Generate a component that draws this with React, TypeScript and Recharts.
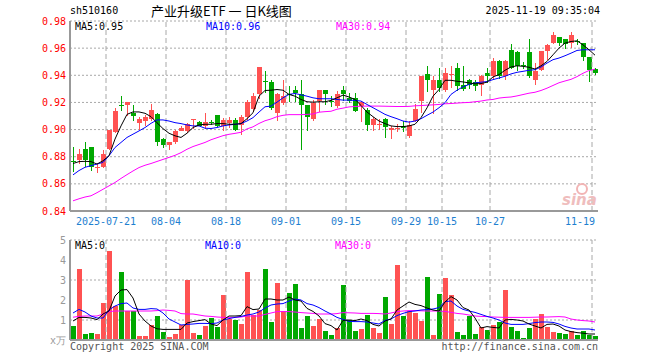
import React from "react";
import { ComposedChart, Bar, Line, XAxis, YAxis, CartesianGrid, ReferenceLine } from "recharts";

// trading days shown on the K-line (88 sessions)
const dates = [
  "2025-07-11", "2025-07-14", "2025-07-15", "2025-07-16", "2025-07-17", "2025-07-18",
  "2025-07-21", "2025-07-22", "2025-07-23", "2025-07-24", "2025-07-25",
  "2025-07-28", "2025-07-29", "2025-07-30", "2025-07-31", "2025-08-01",
  "2025-08-04", "2025-08-05", "2025-08-06", "2025-08-07", "2025-08-08",
  "2025-08-11", "2025-08-12", "2025-08-13", "2025-08-14", "2025-08-15",
  "2025-08-18", "2025-08-19", "2025-08-20", "2025-08-21", "2025-08-22",
  "2025-08-25", "2025-08-26", "2025-08-27", "2025-08-28", "2025-08-29",
  "2025-09-01", "2025-09-02", "2025-09-03", "2025-09-04", "2025-09-05",
  "2025-09-08", "2025-09-09", "2025-09-10", "2025-09-11", "2025-09-12",
  "2025-09-15", "2025-09-16", "2025-09-17", "2025-09-18", "2025-09-19",
  "2025-09-22", "2025-09-23", "2025-09-24", "2025-09-25", "2025-09-26",
  "2025-09-29", "2025-09-30", "2025-10-09", "2025-10-10",
  "2025-10-13", "2025-10-14", "2025-10-15", "2025-10-16", "2025-10-17",
  "2025-10-20", "2025-10-21", "2025-10-22", "2025-10-23", "2025-10-24",
  "2025-10-27", "2025-10-28", "2025-10-29", "2025-10-30", "2025-10-31",
  "2025-11-03", "2025-11-04", "2025-11-05", "2025-11-06", "2025-11-07",
  "2025-11-10", "2025-11-11", "2025-11-12", "2025-11-13", "2025-11-14",
  "2025-11-17", "2025-11-18", "2025-11-19",
];

const open = [
  0.8765, 0.8776, 0.8856, 0.8868, 0.872, 0.8722, 0.8856, 0.8985, 0.9182, 0.9178,
  0.9124, 0.9046, 0.9063, 0.908, 0.9112, 0.8929, 0.8885, 0.8905, 0.899, 0.899,
  0.9068, 0.9058, 0.9027, 0.9058, 0.9107, 0.9027, 0.9046, 0.9068, 0.9032, 0.9095,
  0.915, 0.926, 0.9358, 0.935, 0.912, 0.9193, 0.9262, 0.9288, 0.9259, 0.9178,
  0.9076, 0.921, 0.9288, 0.9212, 0.9173, 0.9288, 0.9234, 0.9234, 0.9173, 0.9141,
  0.9032, 0.904, 0.908, 0.8995, 0.9012, 0.9027, 0.8955, 0.9063, 0.921, 0.9412,
  0.929, 0.9363, 0.929, 0.941, 0.9454, 0.9332, 0.9363, 0.935, 0.9332, 0.9417,
  0.9393, 0.9507, 0.9393, 0.9588, 0.957, 0.9478, 0.957, 0.9368, 0.9441, 0.9576,
  0.9641, 0.9685, 0.9666, 0.9641, 0.9655, 0.9636, 0.9537, 0.9445,
];
const high = [
  0.8875, 0.8856, 0.8905, 0.8868, 0.8746, 0.885, 0.9, 0.916, 0.925, 0.9205,
  0.9178, 0.9095, 0.911, 0.9185, 0.9124, 0.894, 0.891, 0.9, 0.9025, 0.905,
  0.9076, 0.906, 0.912, 0.907, 0.911, 0.9088, 0.9093, 0.9088, 0.911, 0.922,
  0.927, 0.9459, 0.943, 0.9368, 0.927, 0.9368, 0.932, 0.932, 0.9368, 0.918,
  0.9215, 0.9288, 0.9288, 0.9246, 0.9283, 0.932, 0.927, 0.927, 0.921, 0.916,
  0.9095, 0.9076, 0.9088, 0.9027, 0.904, 0.9063, 0.9063, 0.9185, 0.9395, 0.947,
  0.9393, 0.9454, 0.9454, 0.947, 0.949, 0.9466, 0.9375, 0.9368, 0.9405, 0.9454,
  0.9527, 0.9515, 0.9515, 0.963, 0.958, 0.95, 0.9666, 0.949, 0.958, 0.963,
  0.9722, 0.9685, 0.967, 0.9722, 0.9665, 0.9636, 0.9537, 0.9451,
];
const low = [
  0.869, 0.8746, 0.8722, 0.869, 0.868, 0.8715, 0.885, 0.8975, 0.9137, 0.91,
  0.9063, 0.9, 0.9027, 0.9063, 0.888, 0.8868, 0.885, 0.89, 0.8985, 0.898,
  0.9, 0.9025, 0.9, 0.903, 0.902, 0.899, 0.9015, 0.899, 0.896, 0.9076,
  0.9137, 0.922, 0.927, 0.915, 0.9063, 0.9185, 0.92, 0.92, 0.885, 0.899,
  0.9063, 0.9125, 0.9178, 0.9166, 0.916, 0.921, 0.92, 0.913, 0.9056, 0.899,
  0.899, 0.8995, 0.894, 0.893, 0.898, 0.898, 0.894, 0.905, 0.9124, 0.928,
  0.9112, 0.928, 0.928, 0.9307, 0.928, 0.928, 0.93, 0.929, 0.925, 0.9344,
  0.9368, 0.9373, 0.9368, 0.9446, 0.943, 0.945, 0.938, 0.933, 0.943, 0.9515,
  0.9637, 0.9617, 0.96, 0.9607, 0.962, 0.95, 0.9354, 0.94,
];
const close = [
  0.8762, 0.882, 0.8776, 0.8722, 0.8725, 0.882, 0.8995, 0.914, 0.9178, 0.92,
  0.91, 0.9076, 0.9093, 0.9141, 0.891, 0.8885, 0.8905, 0.899, 0.9015, 0.9044,
  0.9076, 0.9027, 0.9058, 0.9046, 0.9027, 0.9068, 0.9068, 0.9, 0.9095, 0.9202,
  0.925, 0.9459, 0.9354, 0.916, 0.926, 0.9251, 0.9255, 0.9271, 0.9178, 0.9095,
  0.9198, 0.9288, 0.9259, 0.9208, 0.9259, 0.9259, 0.921, 0.914, 0.9202, 0.9032,
  0.9076, 0.9044, 0.902, 0.901, 0.9015, 0.901, 0.9035, 0.915, 0.9393, 0.9363,
  0.9363, 0.9307, 0.9417, 0.9412, 0.932, 0.9302, 0.9332, 0.932, 0.9393, 0.9393,
  0.9507, 0.9393, 0.9502, 0.9454, 0.9466, 0.947, 0.9393, 0.943, 0.9576, 0.9624,
  0.9698, 0.9637, 0.9632, 0.9698, 0.9643, 0.9537, 0.944, 0.942,
];

const ma5 = [
  0.875, 0.8764, 0.8766, 0.8764, 0.8746, 0.877, 0.8807, 0.893, 0.9027, 0.9112,
  0.913, 0.913, 0.912, 0.9095, 0.905, 0.9007, 0.8973, 0.8954, 0.8942, 0.8973,
  0.9015, 0.9034, 0.9039, 0.9039, 0.9044, 0.9044, 0.9039, 0.9039, 0.9044, 0.908,
  0.9124, 0.9246, 0.9288, 0.929, 0.9295, 0.929, 0.9259, 0.9246, 0.9222, 0.9205,
  0.9202, 0.9205, 0.9205, 0.9215, 0.9234, 0.9254, 0.924, 0.9222, 0.9178, 0.9129,
  0.9095, 0.9063, 0.9044, 0.9027, 0.9022, 0.9022, 0.9027, 0.9039, 0.9088, 0.916,
  0.9246, 0.9295, 0.9363, 0.9363, 0.9356, 0.9351, 0.9344, 0.9337, 0.9339, 0.9349,
  0.9388, 0.9405, 0.9437, 0.9461, 0.947, 0.9466, 0.9459, 0.9446, 0.947, 0.9502,
  0.9551, 0.96, 0.9637, 0.9649, 0.9654, 0.9624, 0.9588, 0.9548,
];
const ma10 = [
  0.8666, 0.8698, 0.8722, 0.8734, 0.8746, 0.8758, 0.8807, 0.8868, 0.8905, 0.8942,
  0.8966, 0.899, 0.9015, 0.9046, 0.9071, 0.9071, 0.9063, 0.9051, 0.9044, 0.9034,
  0.9027, 0.9027, 0.901, 0.9008, 0.9015, 0.9027, 0.9034, 0.9039, 0.9044, 0.9063,
  0.9088, 0.9129, 0.9168, 0.9173, 0.9202, 0.9234, 0.9259, 0.9266, 0.9256, 0.9246,
  0.9234, 0.9227, 0.9227, 0.9227, 0.9222, 0.9217, 0.9217, 0.9215, 0.921, 0.9185,
  0.9161, 0.9137, 0.9112, 0.9095, 0.908, 0.9063, 0.9055, 0.9063, 0.908, 0.9105,
  0.9129, 0.9161, 0.9198, 0.9259, 0.929, 0.9315, 0.9332, 0.9344, 0.9349, 0.9354,
  0.9368, 0.938, 0.9393, 0.941, 0.9422, 0.9429, 0.9437, 0.9441, 0.9461, 0.949,
  0.9515, 0.9527, 0.9544, 0.9563, 0.9583, 0.9588, 0.9588, 0.9588,
];
const ma30 = [
  0.8475, 0.849, 0.8503, 0.8512, 0.8535, 0.856, 0.8585, 0.861, 0.864, 0.8668,
  0.8695, 0.872, 0.8737, 0.875, 0.8765, 0.878, 0.8795, 0.881, 0.883, 0.8855,
  0.8875, 0.889, 0.8905, 0.8925, 0.894, 0.8955, 0.8965, 0.8972, 0.898, 0.9005,
  0.902, 0.9045, 0.9065, 0.9078, 0.9095, 0.9105, 0.911, 0.911, 0.911, 0.9112,
  0.9115, 0.9128, 0.9132, 0.9135, 0.915, 0.9158, 0.9167, 0.917, 0.9172, 0.9173,
  0.9173, 0.9173, 0.9172, 0.9171, 0.917, 0.917, 0.9171, 0.9175, 0.9177, 0.918,
  0.9182, 0.9185, 0.919, 0.9192, 0.9195, 0.9198, 0.92, 0.9205, 0.921, 0.9218,
  0.9222, 0.9232, 0.9237, 0.924, 0.9248, 0.9258, 0.9268, 0.9275, 0.9288, 0.9305,
  0.9325, 0.9345, 0.9358, 0.937, 0.939, 0.9415, 0.9435, 0.9445,
];

// volume, in the panel's unit
const vol = [
  0.7, 3.55, 0.3, 0.35, 0.3, 1.85, 4.45, 1.7, 3.4, 1.43,
  1.43, 0.2, 0.2, 0.75, 1.2, 0.4, 0.15, 0.3, 0.75, 3.0,
  0.35, 0.25, 0.72, 1.1, 0.65, 2.25, 1.05, 1.0, 0.82, 3.4,
  1.25, 1.5, 3.55, 0.92, 2.85, 1.45, 2.35, 2.8, 0.58, 1.18,
  0.72, 1.07, 0.47, 0.27, 0.62, 2.75, 1.0, 0.45, 0.55, 1.23,
  0.6, 0.35, 2.15, 0.8, 3.75, 1.2, 1.45, 1.33, 0.95, 3.15,
  0.25, 2.3, 3.1, 2.25, 0.4, 0.25, 1.2, 0.3, 0.65, 0.5,
  0.75, 0.9, 2.5, 0.65, 0.45, 0.1, 0.6, 1.05, 1.3, 0.65,
  0.4, 0.35, 0.3, 0.45, 0.25, 0.45, 0.25, 0.2,
];
const vma5 = [
  0.95, 1.13, 1.13, 1.1, 1.02, 1.3, 1.45, 2.2, 2.5, 2.52,
  2.1, 1.3, 0.95, 0.7, 0.56, 0.53, 0.53, 0.53, 0.53, 0.85,
  0.92, 0.97, 1.02, 0.8, 0.72, 1.0, 1.2, 1.2, 1.22, 1.67,
  1.52, 1.55, 2.05, 2.05, 2.0, 2.0, 2.15, 2.0, 1.95, 1.58,
  1.43, 1.2, 0.82, 0.72, 0.5, 0.98, 1.0, 0.97, 1.05, 0.97,
  0.78, 0.7, 0.95, 1.05, 1.5, 1.7, 1.9, 1.78, 1.72, 1.6,
  1.5, 1.45, 1.9, 2.17, 2.0, 1.62, 1.5, 1.1, 0.6, 0.67,
  0.63, 0.6, 1.0, 1.03, 1.0, 0.95, 0.8, 0.7, 0.6, 0.78,
  0.8, 0.7, 0.5, 0.42, 0.37, 0.34, 0.3, 0.3,
];
const vma10 = [
  1.35, 1.53, 1.4, 1.2, 1.1, 1.1, 1.5, 1.7, 1.82, 1.85,
  1.6, 1.53, 1.53, 1.57, 1.55, 1.35, 1.05, 0.9, 0.75, 0.78,
  0.8, 0.83, 0.83, 0.82, 0.85, 1.0, 1.07, 1.13, 1.18, 1.25,
  1.3, 1.4, 1.6, 1.75, 1.8, 1.82, 1.95, 2.05, 2.0, 1.82,
  1.75, 1.62, 1.45, 1.3, 1.13, 1.03, 0.93, 0.92, 0.92, 0.9,
  0.85, 0.8, 0.98, 1.05, 1.22, 1.33, 1.42, 1.45, 1.5, 1.52,
  1.55, 1.62, 1.92, 1.95, 1.7, 1.53, 1.45, 1.38, 1.28, 1.18,
  1.1, 1.0, 0.85, 0.78, 0.78, 0.78, 0.82, 0.87, 0.9, 0.9,
  0.88, 0.8, 0.68, 0.6, 0.55, 0.55, 0.55, 0.5,
];
const vma30 = [
  1.14, 1.18, 1.2, 1.2, 1.2, 1.3, 1.42, 1.45, 1.45, 1.45,
  1.45, 1.45, 1.45, 1.45, 1.47, 1.5, 1.48, 1.45, 1.32, 1.3,
  1.3, 1.25, 1.2, 1.18, 1.15, 1.13, 1.13, 1.13, 1.15, 1.2,
  1.2, 1.2, 1.28, 1.35, 1.42, 1.42, 1.42, 1.4, 1.37, 1.35,
  1.33, 1.3, 1.3, 1.3, 1.32, 1.37, 1.36, 1.35, 1.33, 1.33,
  1.33, 1.32, 1.3, 1.35, 1.42, 1.45, 1.47, 1.47, 1.46, 1.45,
  1.45, 1.45, 1.43, 1.38, 1.33, 1.3, 1.25, 1.2, 1.18, 1.17,
  1.15, 1.14, 1.13, 1.13, 1.13, 1.13, 1.13, 1.14, 1.15, 1.15,
  1.16, 1.17, 1.15, 1.05, 1.0, 0.97, 0.95, 0.9,
];

const dateTicks = [
  "2025-07-21", "2025-08-04", "2025-08-18", "2025-09-01", "2025-09-15",
  "2025-09-29", "2025-10-15", "2025-10-27", "2025-11-19",
];
const priceTicks = [0.84, 0.86, 0.88, 0.9, 0.92, 0.94, 0.96, 0.98];
const volTicks = [0, 1, 2, 3, 4, 5];

const UP = "#ff5252";
const DOWN = "#00a800";
const MONO = "'DejaVu Sans Mono', monospace";
const GRID = "#a8a8a8";
const AXIS = "#999";

const rows = dates.map((date, i) => ({
  date,
  open: open[i], high: high[i], low: low[i], close: close[i],
  ma5: ma5[i], ma10: ma10[i], ma30: ma30[i],
  vol: vol[i], vma5: vma5[i], vma10: vma10[i], vma30: vma30[i],
}));

function Candle(props: any) {
  const { x, y, width, height, payload } = props;
  const { open: o, close: c, high: h, low: l } = payload;
  const k = h > l ? height / (h - l) : 0;
  const yOf = (v: number) => y + (h - v) * k;
  const color = c >= o ? UP : DOWN;
  const left = Math.round(x);
  const w = Math.round(width);
  const mid = left + Math.floor(w / 2);
  const top = Math.round(yOf(Math.max(o, c)));
  const bot = Math.round(yOf(Math.min(o, c)));
  return (
    <g>
      <rect x={mid} y={Math.round(y)} width={1} height={Math.max(Math.round(height), 1)} fill={color} />
      <rect x={left} y={top} width={w} height={Math.max(bot - top, 1)} fill={color} />
    </g>
  );
}

function VolBar(props: any) {
  const { x, y, width, height, payload } = props;
  const color = payload.close >= payload.open ? UP : DOWN;
  const top = Math.round(y);
  return <rect x={Math.round(x)} y={top} width={Math.round(width)} height={Math.round(y + height) - top} fill={color} />;
}

function DateTick(props: any) {
  const { x, y, payload, index } = props;
  const v: string = payload.value;
  const last = index === dateTicks.length - 1;
  const label = index === 0 ? v : v.slice(5);
  return (
    <text x={last ? x : x - 3} y={y} dy="0.71em" textAnchor={last ? "end" : "middle"}
      fontFamily={MONO} fontSize={10} fill="#1e80d0">{label}</text>
  );
}

const txt = (extra: React.CSSProperties): React.CSSProperties => ({
  position: "absolute", fontFamily: MONO, fontSize: 10, lineHeight: "12px", whiteSpace: "pre", ...extra,
});

export default function App() {
  return (
    <div style={{ position: "absolute", left: 0, top: 0, width: 660, height: 360, background: "#fff", overflow: "hidden" }}>
      <div style={txt({ left: 70, top: 5, color: "#000" })}>sh510160</div>
      <div style={txt({ left: 151, top: 3, fontSize: 13, lineHeight: "16px", fontFamily: "'Noto Sans CJK SC', sans-serif", color: "#000" })}>
        产业升级ETF 一 日K线图
      </div>
      <div style={txt({ left: 0, width: 600, top: 5, textAlign: "right", color: "#000" })}>2025-11-19 09:35:04</div>

      <div style={{ position: "absolute", left: 0, top: 0 }}>
        <ComposedChart width={660} height={230} data={rows} margin={{ top: 21, right: 62, bottom: 0, left: 0 }}>
          <CartesianGrid vertical={false} stroke={GRID} strokeDasharray="2 2" />
          {dateTicks.map(d => (
            <ReferenceLine key={d} x={d} position="start" stroke={GRID} strokeDasharray="5 3" />
          ))}
          <XAxis dataKey="date" type="category" ticks={dateTicks} interval={0} tick={<DateTick />}
            tickLine={false} tickSize={0} tickMargin={7} height={19} axisLine={{ stroke: AXIS, strokeWidth: 2 }} />
          <XAxis xAxisId="top" dataKey="date" orientation="top" height={0} tick={false} tickLine={false}
            axisLine={{ stroke: "#bbb", strokeWidth: 1 }} />
          <YAxis domain={[0.84, 0.98]} ticks={priceTicks} width={70} tickLine={false} tickSize={0} tickMargin={4}
            tickFormatter={(v: number) => v.toFixed(2)} allowDataOverflow
            tick={{ fill: "#ff0000", fontSize: 10, fontFamily: MONO }} axisLine={{ stroke: AXIS, strokeWidth: 2 }} />
          <YAxis yAxisId="right" orientation="right" width={0} tick={false} tickLine={false}
            axisLine={{ stroke: "#aaa", strokeWidth: 2 }} />
          <Bar dataKey={(d: any) => [d.low, d.high]} barSize={5} shape={<Candle />} isAnimationActive={false} />
          <Line dataKey="ma30" stroke="#ff00ff" strokeWidth={1} dot={false} isAnimationActive={false} />
          <Line dataKey="ma10" stroke="#0000ff" strokeWidth={1} dot={false} isAnimationActive={false} />
          <Line dataKey="ma5" stroke="#000" strokeWidth={1} dot={false} isAnimationActive={false} />
        </ComposedChart>
      </div>

      <svg style={{ position: "absolute", left: 560, top: 182 }} width={40} height={26}>
        <circle cx={22} cy={7} r={5} fill="none" stroke="#f2b4b4" strokeWidth={2} />
        <text x={2} y={23} fontFamily="'DejaVu Sans', sans-serif" fontStyle="italic" fontWeight="bold"
          fontSize={15} fill="#efbdbd">sina</text>
      </svg>

      <div style={txt({ left: 75, top: 21, color: "#000" })}>MA5:0.95</div>
      <div style={txt({ left: 206, top: 21, color: "#0000ff" })}>MA10:0.96</div>
      <div style={txt({ left: 336, top: 21, color: "#ff00ff" })}>MA30:0.94</div>

      <div style={{ position: "absolute", left: 0, top: 230 }}>
        <ComposedChart width={660} height={130} data={rows} margin={{ top: 10, right: 62, bottom: 0, left: 0 }}>
          <CartesianGrid vertical={false} stroke={GRID} strokeDasharray="2 2" />
          {dateTicks.map(d => (
            <ReferenceLine key={d} x={d} position="start" stroke={GRID} strokeDasharray="5 3" />
          ))}
          <XAxis dataKey="date" type="category" tick={false} tickLine={false} height={20}
            axisLine={{ stroke: AXIS, strokeWidth: 2 }} />
          <XAxis xAxisId="top" dataKey="date" orientation="top" height={0} tick={false} tickLine={false}
            axisLine={{ stroke: "#bbb", strokeWidth: 1 }} />
          <YAxis domain={[0, 5]} ticks={volTicks} width={70} tickLine={false} tickSize={0} tickMargin={4}
            tickFormatter={(v: number) => (v === 0 ? "x万" : String(v))} allowDataOverflow
            tick={{ fill: "#999", fontSize: 10, fontFamily: MONO }} axisLine={{ stroke: AXIS, strokeWidth: 2 }} />
          <YAxis yAxisId="right" orientation="right" width={0} tick={false} tickLine={false}
            axisLine={{ stroke: "#aaa", strokeWidth: 2 }} />
          <Bar dataKey="vol" barSize={5} shape={<VolBar />} isAnimationActive={false} />
          <Line dataKey="vma30" stroke="#ff00ff" strokeWidth={1} dot={false} isAnimationActive={false} />
          <Line dataKey="vma10" stroke="#0000ff" strokeWidth={1} dot={false} isAnimationActive={false} />
          <Line dataKey="vma5" stroke="#000" strokeWidth={1} dot={false} isAnimationActive={false} />
        </ComposedChart>
      </div>

      <div style={txt({ left: 75, top: 240, color: "#000" })}>MA5:0</div>
      <div style={txt({ left: 205, top: 240, color: "#0000ff" })}>MA10:0</div>
      <div style={txt({ left: 335, top: 240, color: "#ff00ff" })}>MA30:0</div>

      <div style={txt({ left: 70, top: 341, color: "#555" })}>Copyright 2025 SINA.COM</div>
      <div style={txt({ left: 0, width: 598, top: 341, textAlign: "right", color: "#555" })}>http://finance.sina.com.cn</div>
    </div>
  );
}
